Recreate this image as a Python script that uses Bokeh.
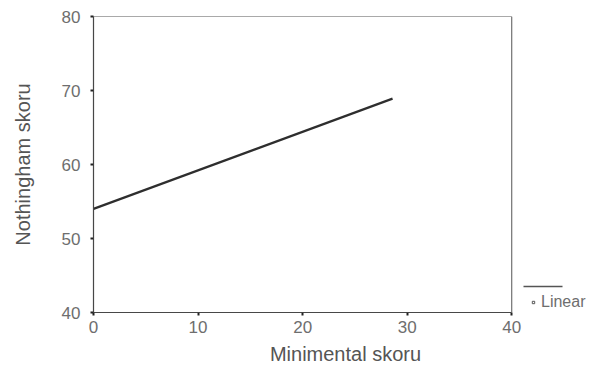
from bokeh.plotting import figure
from bokeh.models import (Range1d, FixedTicker, Legend, LegendItem, Arrow,
                          ColumnDataSource, BoxAnnotation)
from bokeh.embed import file_html
from bokeh.resources import INLINE

# Data (fitted linear regression line)
minimental = [0.0, 28.6]
nothingham = [54.0, 68.9]
x_ticks = [0, 10, 20, 30, 40]
y_ticks = [40, 50, 60, 70, 80]
x_lim = (0, 40)
y_lim = (40, 80)
legend_label = "Linear"

# x range extended to the right so the legend area (right of the box) is drawable
p = figure(width=597, height=372, output_backend="svg", toolbar_location=None,
           x_range=Range1d(0, 48.2), y_range=Range1d(*y_lim),
           min_border_left=93, min_border_right=0, min_border_top=16,
           min_border_bottom=60)
p.background_fill_color = "white"
p.border_fill_color = "white"
p.grid.visible = False
p.outline_line_color = None

FONT = "Liberation Sans"
for ax in (p.xaxis[0], p.yaxis[0]):
    ax.axis_line_color = "#3a3a3a"
    ax.axis_line_width = 1.2
    ax.major_tick_line_color = "#222222"
    ax.major_tick_line_width = 2
    ax.major_tick_in = 0
    ax.major_tick_out = 3
    ax.minor_tick_line_color = None
    ax.major_label_text_font = FONT
    ax.major_label_text_font_size = "17px"
    ax.major_label_text_color = "#6e6e6e"
    ax.axis_label_text_font = FONT
    ax.axis_label_text_font_size = "20px"
    ax.axis_label_text_font_style = "normal"
    ax.axis_label_text_color = "#555555"

p.xaxis.bounds = x_lim
p.xaxis.ticker = FixedTicker(ticks=x_ticks)
p.yaxis.ticker = FixedTicker(ticks=y_ticks)
p.xaxis.axis_label = "Minimental skoru"
p.yaxis.axis_label = "Nothingham skoru"
p.xaxis.major_label_standoff = 5
p.xaxis.axis_label_standoff = 7
p.yaxis.major_label_standoff = 10
p.yaxis.axis_label_standoff = 25

# box (top and right borders of the plot area)
p.add_layout(BoxAnnotation(left=x_lim[0], right=x_lim[1], bottom=y_lim[0],
                           top=y_lim[1], fill_alpha=0, line_color="#555555",
                           line_alpha=1.0, line_width=1))

src = ColumnDataSource(dict(x=minimental, y=nothingham))
line = p.line("x", "y", source=src, line_color="#2e2e2e", line_width=2.2)

# legend: short line sample + hollow square with label (marker itself not drawn)
nan = float("nan")
empty = ColumnDataSource(dict(x=[nan], y=[nan]))
sq = p.scatter("x", "y", source=empty, marker="square", size=5,
               fill_color="white", line_color="#555555", line_width=1)

p.add_layout(Arrow(end=None, x_start=430, y_start=26, x_end=469, y_end=26,
                   start_units="screen", end_units="screen",
                   line_color="#555555", line_width=1.5))

legend = Legend(items=[LegendItem(label=legend_label, renderers=[sq], index=0)],
                location=(437, 1), orientation="vertical",
                glyph_width=6, glyph_height=8, label_standoff=5,
                padding=0, margin=0, spacing=0,
                border_line_color=None, background_fill_alpha=0,
                label_text_font=FONT, label_text_font_size="16px",
                label_text_color="#6e6e6e")
p.add_layout(legend, "center")

open("out.html", "w").write(file_html(p, INLINE))
